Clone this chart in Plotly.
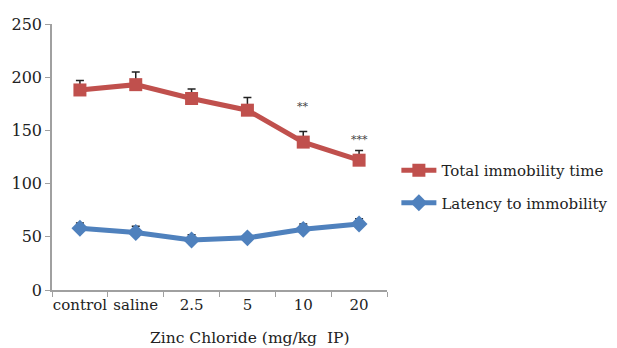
import plotly.graph_objects as go

categories = ["control", "saline", "2.5", "5", "10", "20"]
total_immobility = [188, 193, 180, 169, 139, 122]
total_err = [9, 12, 9, 12, 10, 9]
latency = [58, 54, 47, 49, 57, 62]
latency_err = [5, 6, 5, 3, 5, 5]
sig_labels = ["", "", "", "", "**", "***"]
sig_y = [None, None, None, None, 172, 141]

RED = "#C0504D"
BLUE = "#4F81BD"
FONT = "DejaVu Serif"

fig = go.Figure()
fig.add_trace(go.Scatter(
    x=categories, y=total_immobility, name="Total immobility time",
    mode="lines+markers", legendgroup="a",
    line=dict(color=RED, width=5),
    marker=dict(symbol="square", size=13, color=RED),
    error_y=dict(type="data", array=total_err, arrayminus=[0]*6,
                 color="#222222", thickness=1.5, width=4),
))
fig.add_trace(go.Scatter(
    x=categories, y=latency, name="Latency to immobility",
    mode="lines+markers", legendgroup="b",
    line=dict(color=BLUE, width=5),
    marker=dict(symbol="diamond", size=13, color=BLUE),
    error_y=dict(type="data", array=latency_err, arrayminus=[0]*6,
                 color="#222222", thickness=1.5, width=4),
))

for i, (lab, yv) in enumerate(zip(sig_labels, sig_y)):
    if lab:
        fig.add_annotation(x=i, y=yv, text=lab, showarrow=False,
                           font=dict(family=FONT, size=11, color="#444444"))

fig.add_annotation(xref="paper", yref="paper", x=(245-52)/327, y=-0.18,
                   text="Zinc Chloride (mg/kg  IP)", showarrow=False,
                   xanchor="center", yanchor="middle",
                   font=dict(family=FONT, size=15.5, color="#222222"))

fig.update_layout(
    width=609, height=340,
    margin=dict(l=44, r=230, t=16, b=58, autoexpand=False),
    paper_bgcolor="white", plot_bgcolor="white",
    font=dict(family=FONT, size=15, color="#222222"),
    showlegend=True,
    legend=dict(x=1.028, y=0.389, xanchor="left", yanchor="middle",
                font=dict(family=FONT, size=15, color="#222222"),
                tracegroupgap=10, itemwidth=35, bgcolor="rgba(0,0,0,0)"),
    xaxis=dict(type="category", range=[-0.5, 5.5], showgrid=False, showline=True,
               linecolor="#A0A0A0", linewidth=1.5, ticks="outside",
               tickson="boundaries", ticklen=5, tickcolor="#A0A0A0",
               tickangle=0, automargin=False,
               tickfont=dict(family=FONT, size=15), zeroline=False),
    yaxis=dict(range=[0, 250], dtick=50, showgrid=False, showline=True,
               linecolor="#A0A0A0", linewidth=1.5, ticks="outside",
               ticklen=5, tickcolor="#A0A0A0", zeroline=False, automargin=False,
               tickfont=dict(family=FONT, size=16)),
)

fig.write_html("out.html")
